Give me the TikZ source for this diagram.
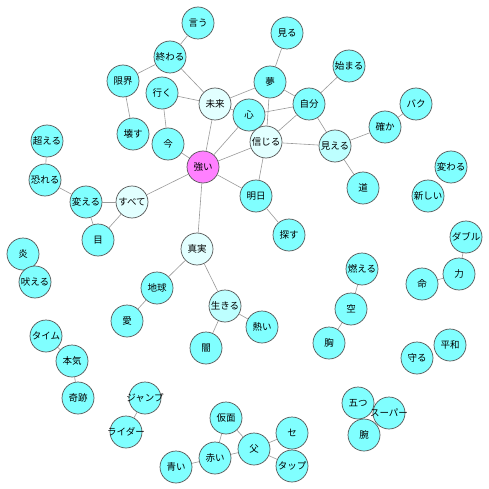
\documentclass[tikz,border=0pt]{standalone}
\usepackage{fontspec}
\newfontfamily\jpfont{Noto Sans CJK JP}
\definecolor{cy}{HTML}{80FFFF}
\definecolor{pale}{HTML}{E2FFFF}
\definecolor{mid}{HTML}{BDFFFF}
\definecolor{mag}{HTML}{FF80FF}
\definecolor{rim}{HTML}{555555}
\definecolor{edg}{HTML}{9A9A9A}
\tikzset{
  nd/.style={circle,draw=rim,line width=0.7pt,fill=cy,minimum size=32pt,inner sep=0pt,
    font=\jpfont\fontsize{9.5}{10}\selectfont},
  ln/.style={draw=edg,line width=0.6pt}
}
\newcommand\nd[4][cy]{\node[nd,fill=#1] (#2) at (#3) {\makebox[0pt]{#4}};}
\begin{document}
\begin{tikzpicture}[x=1pt,y=-1pt]
\useasboundingbox[fill=white] (0,0) rectangle (489,489);
\nd{iu}{198,23}{言う}
\nd{owaru}{170,57}{終わる}
\nd{genkai}{123,81}{限界}
\nd{iku}{162,93}{行く}
\nd[pale]{mirai}{215,104}{未来}
\nd{kowasu}{133,134}{壊す}
\nd{ima}{168,144}{今}
\nd[mag]{tsuyoi}{203,167}{強い}
\nd{koeru}{47,141}{超える}
\nd{osoreru}{45,180}{恐れる}
\nd{kaeru}{86,202}{変える}
\nd[pale]{subete}{132,202}{すべて}
\nd{me}{98,240}{目}
\nd{miru}{287,33}{見る}
\nd{hajimaru}{349,66}{始まる}
\nd{yume}{270,82}{夢}
\nd{jibun}{309,104}{自分}
\nd{kokoro}{249,115}{心}
\nd{baku}{416,104}{バク}
\nd{tashika}{385,127}{確か}
\nd[pale]{shinjiru}{266,142}{信じる}
\nd[mid]{mieru}{335,146}{見える}
\nd{michi}{363,188}{道}
\nd{kawaru}{451,167}{変わる}
\nd{atarashii}{428,196}{新しい}
\nd{ashita}{256,196}{明日}
\nd{sagasu}{289,235}{探す}
\nd{daburu}{466,237}{ダブル}
\nd{honoo}{23,254}{炎}
\nd{hoeru}{35,282}{吠える}
\nd[pale]{shinjitsu}{197,249}{真実}
\nd{chikyu}{157,288}{地球}
\nd{ai}{127,321}{愛}
\nd[mid]{ikiru}{225,306}{生きる}
\nd{yami}{206,348}{闇}
\nd{time}{46,336}{タイム}
\nd{honki}{72,361}{本気}
\nd{kiseki}{78,398}{奇跡}
\nd{jump}{145,398}{ジャンプ}
\nd{rider}{126,432}{ライダー}
\nd{kamen}{226,418}{仮面}
\nd{akai}{215,458}{赤い}
\nd{aoi}{176,467}{青い}
\nd{moeru}{362,269}{燃える}
\nd{sora}{351,309}{空}
\nd{mune}{329,343}{胸}
\nd{atsui}{262,327}{熱い}
\nd{inochi}{422,284}{命}
\nd{chikara}{459,274}{力}
\nd{heiwa}{450,345}{平和}
\nd{mamoru}{417,358}{守る}
\nd{itsutsu}{358,403}{五つ}
\nd{ude}{364,435}{腕}
\nd{super}{389,413}{スーパー}
\nd{se}{292,433}{セ}
\nd{tap}{292,466}{タップ}
\nd{chichi}{254,449}{父}
\foreach \a/\b in {iu/owaru,owaru/genkai,owaru/mirai,genkai/kowasu,iku/mirai,iku/ima,
  ima/tsuyoi,mirai/tsuyoi,mirai/yume,mirai/kokoro,tsuyoi/kokoro,tsuyoi/shinjiru,
  tsuyoi/ashita,tsuyoi/shinjitsu,tsuyoi/subete,yume/miru,yume/jibun,yume/shinjiru,
  kokoro/jibun,shinjiru/jibun,jibun/hajimaru,jibun/mieru,shinjiru/mieru,shinjiru/ashita,
  mieru/tashika,mieru/michi,tashika/baku,ashita/sagasu,subete/kaeru,subete/me,
  kaeru/osoreru,osoreru/koeru,kaeru/me,shinjitsu/chikyu,shinjitsu/ikiru,chikyu/ai,
  ikiru/yami,ikiru/atsui,time/honki,honki/kiseki,jump/rider,kamen/akai,kamen/chichi,
  akai/chichi,aoi/akai,chichi/se,chichi/tap,moeru/sora,sora/mune,inochi/chikara,
  chikara/daburu}
  \draw[ln] (\a) -- (\b);
\end{tikzpicture}
\end{document}
